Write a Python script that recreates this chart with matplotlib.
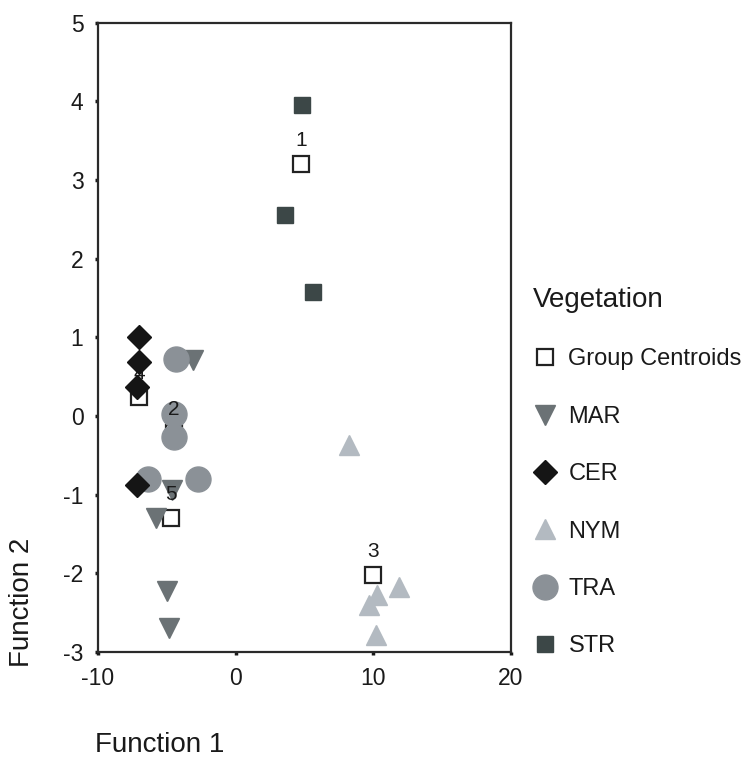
import matplotlib
matplotlib.use('Agg')
import matplotlib.pyplot as plt

plt.rcParams['font.family'] = ['Liberation Sans', 'DejaVu Sans']
plt.rcParams['axes.unicode_minus'] = False

# Discriminant scores per vegetation group (Function 1, Function 2)
mar_x = [-3.1, -4.65, -5.8, -5.0, -4.85]
mar_y = [0.71, -0.94, -1.3, -2.23, -2.7]
cer_x = [-7.0, -7.0, -7.15, -7.15]
cer_y = [1.0, 0.69, 0.37, -0.88]
nym_x = [8.2, 11.9, 10.3, 9.7, 10.2]
nym_y = [-0.37, -2.18, -2.27, -2.4, -2.78]
tra_x = [-4.3, -4.5, -4.5, -6.4, -2.75]
tra_y = [0.72, 0.03, -0.27, -0.8, -0.8]
str_x = [4.8, 3.6, 5.6]
str_y = [3.95, 2.55, 1.58]

# Group centroids and their numbers
cent_x = [4.75, -4.5, 9.95, -7.0, -4.7]
cent_y = [3.2, -0.22, -2.02, 0.24, -1.3]
cent_labels = ['1', '2', '3', '4', '5']

fig = plt.figure(figsize=(7.45, 7.6), dpi=100)
ax = fig.add_axes([98 / 745, 108 / 760, 413 / 745, 629.3 / 760])

h_cent, = ax.plot(cent_x, cent_y, 's', ms=12, mfc='white', mec='#222222',
                  mew=1.6, ls='none', label='Group Centroids', zorder=2)
h_mar, = ax.plot(mar_x, mar_y, 'v', ms=15, color='#6b7275', ls='none',
                 label='MAR', zorder=3)
h_cer, = ax.plot(cer_x, cer_y, 'D', ms=12.5, color='#151515', ls='none',
                 label='CER', zorder=6)
h_nym, = ax.plot(nym_x, nym_y, '^', ms=15, color='#b3bac1', ls='none',
                 label='NYM', zorder=3)
h_tra, = ax.plot(tra_x, tra_y, 'o', ms=18, color='#8b9197', ls='none',
                 label='TRA', zorder=3)
h_str, = ax.plot(str_x, str_y, 's', ms=11, color='#3c4747', ls='none',
                 label='STR', zorder=3)

for lx, ly, t in zip(cent_x, cent_y, cent_labels):
    ax.annotate(t, (lx, ly), xytext=(0, 17), textcoords='offset points',
                ha='center', va='center', fontsize=15, color='#1a1a1a',
                zorder=5)

ax.set_xlim(-10, 20)
ax.set_ylim(-3, 5)
ax.set_xticks([-10, 0, 10, 20])
ax.set_yticks(range(-3, 6))
ax.tick_params(direction='out', length=2.5, width=2.5, pad=8, labelsize=16.5,
               colors='#1a1a1a')
for s in ax.spines.values():
    s.set_linewidth(1.6)
    s.set_color('#2a2a2a')

fig.text(95 / 745, 1 - 745 / 760, 'Function 1', fontsize=20, va='center',
         ha='left', color='#1a1a1a')
fig.text(22 / 745, 1 - 602 / 760, 'Function 2', fontsize=20, va='center',
         ha='center', rotation=90, color='#1a1a1a')

leg = fig.legend(handles=[h_cent, h_mar, h_cer, h_nym, h_tra, h_str],
                 title='Vegetation', loc='upper left',
                 bbox_to_anchor=(533 / 745, 1 - 287 / 760), frameon=False,
                 fontsize=17, title_fontsize=20, labelspacing=1.5,
                 handlelength=1.0, handletextpad=0.5, borderpad=0,
                 borderaxespad=0, alignment='left')
for t in leg.get_texts():
    t.set_color('#1a1a1a')
leg.get_title().set_color('#1a1a1a')

fig.savefig('out.png', dpi=100)
